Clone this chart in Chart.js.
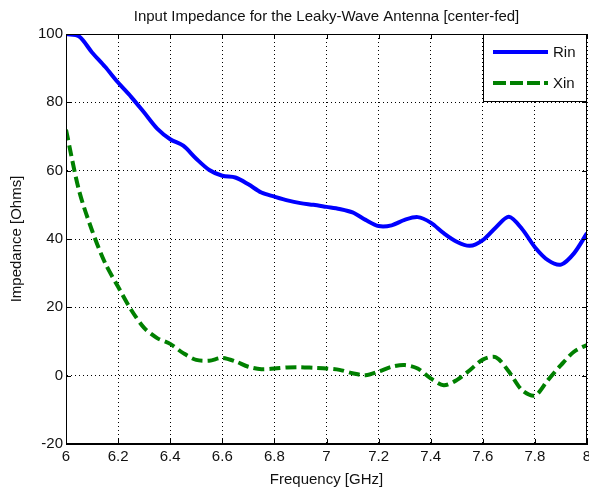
<!DOCTYPE html>
<html>
<head>
<meta charset="utf-8">
<script src="https://cdn.jsdelivr.net/npm/chart.js@4/dist/chart.umd.min.js"></script>
<style>
  html, body { margin: 0; padding: 0; background: #fff; }
  canvas { display: block; }
</style>
</head>
<body>
<canvas id="myChart" width="589" height="489"></canvas>
<script>
// frequency samples (GHz)
var freq = [6.00, 6.05, 6.10, 6.15, 6.20, 6.25, 6.30, 6.35, 6.40, 6.45,
            6.50, 6.55, 6.60, 6.65, 6.70, 6.75, 6.80, 6.85, 6.90, 6.95,
            7.00, 7.05, 7.10, 7.15, 7.20, 7.25, 7.30, 7.35, 7.40, 7.45,
            7.50, 7.55, 7.60, 7.65, 7.70, 7.75, 7.80, 7.85, 7.90, 7.95, 8.00];

var rin = [100, 99.3, 94.6, 90.4, 85.8, 81.6, 77.0, 72.3, 69.2, 67.3,
           63.5, 60.2, 58.5, 58.0, 56.0, 53.6, 52.4, 51.3, 50.5, 50.0,
           49.4, 48.8, 47.8, 45.6, 43.8, 44.0, 45.6, 46.4, 44.8, 41.7,
           39.2, 38.0, 39.7, 43.4, 46.5, 43.0, 37.6, 33.8, 32.5, 35.8, 41.7];

var xin = [72.0, 54.2, 42.5, 33.0, 26.0, 19.3, 14.0, 11.0, 9.3, 6.6,
           4.6, 4.4, 5.2, 4.2, 2.6, 1.9, 2.1, 2.4, 2.5, 2.3,
           2.1, 1.7, 0.7, 0.1, 1.2, 2.6, 3.1, 2.1, -0.8, -2.8,
           -1.3, 1.6, 4.7, 5.4, 1.2, -4.2, -5.8, -1.3, 3.1, 7.0, 9.0];

var seriesNames = ["Rin", "Xin"];
var xTicks = [6, 6.2, 6.4, 6.6, 6.8, 7, 7.2, 7.4, 7.6, 7.8, 8];
var yTicks = [-20, 0, 20, 40, 60, 80, 100];

var FONT = "'Liberation Sans', Arial, sans-serif";

function pts(ys) {
  return freq.map(function (f, i) { return { x: f, y: ys[i] }; });
}

// frame, inward tick marks and the boxed legend (MATLAB look)
var matlabFrame = {
  id: "matlabFrame",
  afterDraw: function (chart) {
    var ctx = chart.ctx, a = chart.chartArea;
    var xs = chart.scales.x, ys = chart.scales.y;
    ctx.save();
    ctx.strokeStyle = "#000";
    ctx.lineWidth = 1;
    ctx.setLineDash([]);
    ctx.strokeRect(a.left + 0.5, a.top + 0.5, a.right - a.left - 1, a.bottom - a.top - 1);
    ctx.beginPath();
    xTicks.forEach(function (t) {
      var px = Math.round(xs.getPixelForValue(t)) + 0.5;
      ctx.moveTo(px, a.bottom); ctx.lineTo(px, a.bottom - 5);
      ctx.moveTo(px, a.top); ctx.lineTo(px, a.top + 5);
    });
    yTicks.forEach(function (t) {
      var py = Math.round(ys.getPixelForValue(t)) + 0.5;
      ctx.moveTo(a.left, py); ctx.lineTo(a.left + 5, py);
      ctx.moveTo(a.right, py); ctx.lineTo(a.right - 5, py);
    });
    ctx.stroke();

    // legend
    var lx = 483, ly = a.top, lw = a.right - 483, lh = 68;
    ctx.fillStyle = "#fff";
    ctx.fillRect(lx, ly, lw, lh);
    ctx.strokeRect(lx + 0.5, ly + 0.5, lw - 1, lh - 1);
    var ds = chart.data.datasets;
    var rows = [ly + 18, ly + 49];
    ds.forEach(function (d, i) {
      ctx.strokeStyle = d.borderColor;
      ctx.lineWidth = 4;
      ctx.setLineDash(i === 1 ? [13, 4] : []);
      ctx.beginPath();
      ctx.moveTo(493, rows[i]); ctx.lineTo(548, rows[i]);
      ctx.stroke();
      ctx.setLineDash([]);
      ctx.fillStyle = "#111";
      ctx.font = "15px " + FONT;
      ctx.textBaseline = "middle";
      ctx.textAlign = "left";
      ctx.fillText(d.label, 553, rows[i] + 1);
    });
    ctx.restore();
  }
};

var ctx = document.getElementById("myChart").getContext("2d");
var chart = new Chart(ctx, {
  type: "line",
  data: {
    datasets: [
      {
        label: seriesNames[0],
        data: pts(rin),
        borderColor: "rgb(0, 0, 255)",
        borderWidth: 4,
        pointRadius: 0,
        tension: 0.3,
        fill: false
      },
      {
        label: seriesNames[1],
        data: pts(xin),
        borderColor: "rgb(0, 128, 0)",
        borderWidth: 4,
        borderDash: [11, 5],
        pointRadius: 0,
        tension: 0.3,
        fill: false
      }
    ]
  },
  options: {
    responsive: false,
    animation: false,
    layout: { padding: { left: 0, right: 2, top: 0, bottom: 0 } },
    plugins: {
      legend: { display: false },
      tooltip: { enabled: false },
      title: {
        display: true,
        fullSize: false,
        text: "Input Impedance for the Leaky-Wave Antenna [center-fed]",
        color: "#111",
        font: { family: FONT, size: 15, weight: "normal" },
        padding: { top: 8, bottom: 8 }
      }
    },
    scales: {
      x: {
        type: "linear",
        min: 6, max: 8,
        afterBuildTicks: function (s) { s.ticks = xTicks.map(function (v) { return { value: v }; }); },
        afterFit: function (s) { s.height = 45; s.paddingLeft = 0; s.paddingRight = 0; },
        ticks: {
          color: "#111",
          font: { family: FONT, size: 15 },
          padding: 4,
          maxRotation: 0,
          callback: function (v) { return String(Math.round(v * 10) / 10); }
        },
        grid: { color: "#000", lineWidth: 1, drawTicks: false, tickBorderDash: [1, 3] },
        border: { display: true, color: "#000", dash: [1, 3] },
        title: {
          display: true,
          text: "Frequency [GHz]",
          color: "#111",
          font: { family: FONT, size: 15 },
          padding: { top: 2, bottom: 0 }
        }
      },
      y: {
        min: -20, max: 100,
        afterBuildTicks: function (s) { s.ticks = yTicks.map(function (v) { return { value: v }; }); },
        afterFit: function (s) { s.width = 66; s.paddingTop = 0; s.paddingBottom = 0; },
        ticks: {
          color: "#111",
          font: { family: FONT, size: 15 },
          padding: 3
        },
        grid: { color: "#000", lineWidth: 1, drawTicks: false },
        border: { display: true, color: "#000", dash: [1, 3] },
        title: {
          display: true,
          text: "Impedance [Ohms]",
          color: "#111",
          font: { family: FONT, size: 15 },
          padding: { top: 8, bottom: 0 }
        }
      }
    }
  },
  plugins: [matlabFrame]
});
// dotted grid lines
chart.options.scales.x.grid.borderDash = [1, 3];
chart.options.scales.y.grid.borderDash = [1, 3];
chart.options.scales.x.border.dash = [1, 3];
chart.options.scales.y.border.dash = [1, 3];
chart.update();
</script>
</body>
</html>
